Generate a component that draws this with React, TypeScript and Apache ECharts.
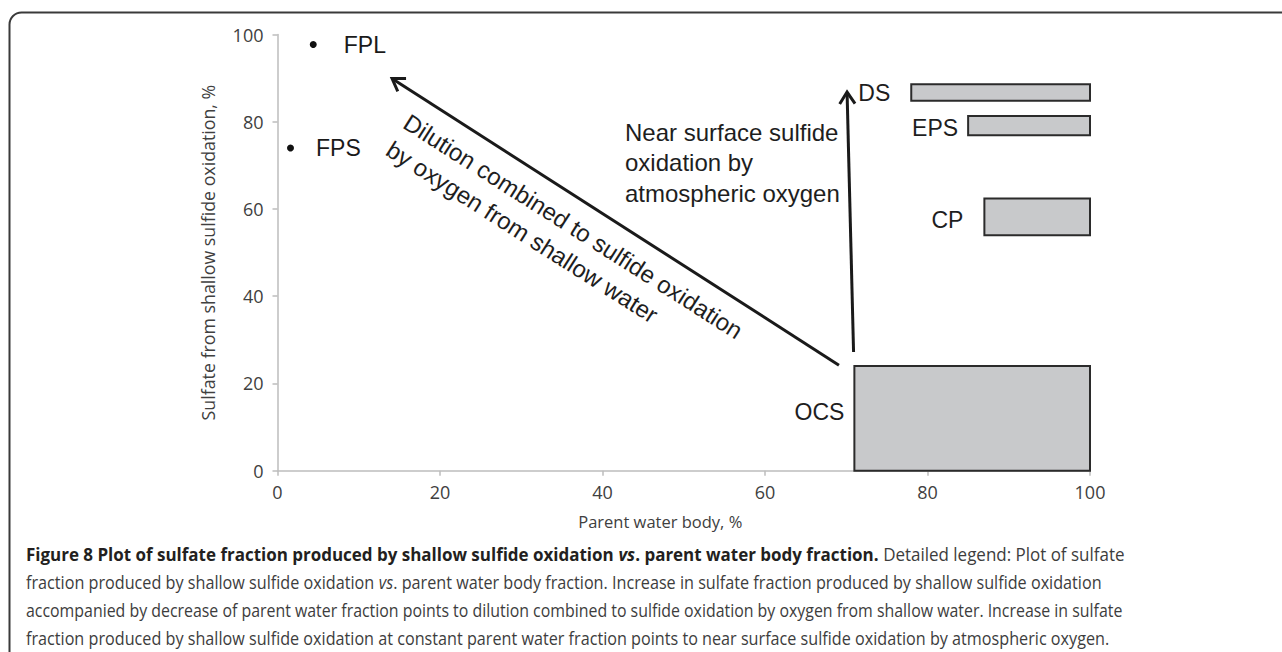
import React, { useEffect, useRef } from "react";
import * as echarts from "echarts";

// Axis ranges (percent)
const xRange = { min: 0, max: 100, step: 20 };
const yRange = { min: 0, max: 100, step: 20 };
const xAxisName = "Parent water body, %";
const yAxisName = "Sulfate from shallow sulfide oxidation, %";

// Single water samples
const pointNames = ["FPL", "FPS"];
const pointX = [4.4, 1.6];
const pointY = [97.7, 74.0];

// Ranges of water groups: parent-water fraction (x) vs sulfate fraction (y)
const boxNames = ["DS", "EPS", "CP", "OCS"];
const boxXFrom = [78, 85, 87, 71];
const boxXTo = [100, 100, 100, 100];
const boxYFrom = [84.8, 76.9, 54.0, 0];
const boxYTo = [88.6, 81.3, 62.4, 24.0];

// Process arrows: start and end in data units
const arrowXFrom = [69.1, 70.9];
const arrowYFrom = [24.2, 27.2];
const arrowXTo = [14.1, 70.1];
const arrowYTo = [89.9, 86.8];

const dilutionLines = ["Dilution combined to sulfide oxidation", "by oxygen from shallow water"];
const surfaceLines = ["Near surface sulfide", "oxidation by", "atmospheric oxygen"];

// Caption, one entry per printed line; each line is a list of [style, text] runs
const captionLines: [string, string][][] = [
  [
    ["b", "Figure 8 Plot of sulfate fraction produced by shallow sulfide oxidation "],
    ["bi", "vs"],
    ["b", ". parent water body fraction."],
    ["r", " Detailed legend: Plot of sulfate"],
  ],
  [
    ["r", "fraction produced by shallow sulfide oxidation "],
    ["i", "vs"],
    ["r", ". parent water body fraction. Increase in sulfate fraction produced by shallow sulfide oxidation"],
  ],
  [
    ["r", "accompanied by decrease of parent water fraction points to dilution combined to sulfide oxidation by oxygen from shallow water. Increase in sulfate"],
  ],
  [
    ["r", "fraction produced by shallow sulfide oxidation at constant parent water fraction points to near surface sulfide oxidation by atmospheric oxygen."],
  ],
];

// Layout / style
const CAPTION_LEFT = 26;
const captionRight = [1125, 1102, 1123, 1110];
const CAPTION_TOP = 554;
const CAPTION_STEP = 28;
const CAPTION_SIZE = 18;
const CAPTION_FONT = '"Open Sans", "Noto Sans", sans-serif';
const LABEL_FONT = '"Liberation Sans", Arial, Helvetica, sans-serif';
const AXIS_FONT = '"Open Sans", "Noto Sans", sans-serif';

const boxLabelOffset: Record<string, [number, number]> = {
  DS: [21, 0],
  EPS: [10, 2],
  CP: [21, 3],
  OCS: [10, -6],
};
const pointLabelDistance: Record<string, number> = { FPL: 27, FPS: 22 };

const runStyle: Record<string, { fontWeight: string; fontStyle: string; fill: string }> = {
  b: { fontWeight: "bold", fontStyle: "normal", fill: "#231f20" },
  bi: { fontWeight: "bold", fontStyle: "italic", fill: "#231f20" },
  r: { fontWeight: "normal", fontStyle: "normal", fill: "#3d3d3d" },
  i: { fontWeight: "normal", fontStyle: "italic", fill: "#3d3d3d" },
};

function measureRuns(runs: [string, string][]): number {
  const ctx = document.createElement("canvas").getContext("2d");
  if (!ctx) return 0;
  let w = 0;
  for (const [k, t] of runs) {
    const s = runStyle[k];
    ctx.font = `${s.fontStyle} ${s.fontWeight} ${CAPTION_SIZE}px ${CAPTION_FONT}`;
    w += ctx.measureText(t).width;
  }
  return w;
}

function captionGraphics() {
  const rich: Record<string, any> = {};
  Object.keys(runStyle).forEach((k) => {
    rich[k] = {
      fontFamily: CAPTION_FONT,
      fontSize: CAPTION_SIZE,
      fontWeight: runStyle[k].fontWeight,
      fontStyle: runStyle[k].fontStyle,
      fill: runStyle[k].fill,
    };
  });
  return captionLines.map((runs, i) => {
    const natural = measureRuns(runs);
    const target = captionRight[i] - CAPTION_LEFT;
    const sx = natural > 0 ? target / natural : 1;
    return {
      type: "text",
      x: CAPTION_LEFT,
      y: CAPTION_TOP + i * CAPTION_STEP,
      scaleX: sx,
      silent: true,
      style: {
        text: runs.map(([k, t]) => `{${k}|${t}}`).join(""),
        rich,
        fontFamily: CAPTION_FONT,
        fontSize: CAPTION_SIZE,
        fill: "#3d3d3d",
        align: "left",
        verticalAlign: "middle",
        textAlign: "left",
        textVerticalAlign: "middle",
      },
    };
  });
}

export default function App() {
  const ref = useRef<HTMLDivElement>(null);

  useEffect(() => {
    if (!ref.current) return;
    const chart = echarts.init(ref.current, undefined, { renderer: "svg" });

    const boxData = boxNames.map((n, i) => [boxXFrom[i], boxXTo[i], boxYFrom[i], boxYTo[i]]);
    const arrowData = arrowXFrom.map((x, i) => [x, arrowYFrom[i], arrowXTo[i], arrowYTo[i]]);
    const pointData = pointNames.map((n, i) => ({
      name: n,
      value: [pointX[i], pointY[i]],
      label: { distance: pointLabelDistance[n] },
    }));

    const axisCommon = {
      axisLine: { show: true, lineStyle: { color: "#bdbdbd", width: 1.5 } },
      axisTick: { show: true, length: 5, lineStyle: { color: "#bdbdbd", width: 1.5 } },
      splitLine: { show: false },
      nameLocation: "middle" as const,
    };

    const dilutionAngle = 0.567;

    const option: any = {
      animation: false,
      backgroundColor: "#ffffff",
      grid: { left: 277.5, right: 192, top: 34.5, bottom: 181.3, containLabel: false },
      xAxis: {
        type: "value",
        min: xRange.min,
        max: xRange.max,
        interval: xRange.step,
        ...axisCommon,
        name: xAxisName,
        nameGap: 42,
        nameTextStyle: { fontFamily: AXIS_FONT, fontSize: 16.5, color: "#404040", padding: [0, 47, 0, 0] },
        axisLabel: { fontFamily: AXIS_FONT, fontSize: 18, color: "#404040", margin: 12 },
      },
      yAxis: {
        type: "value",
        min: yRange.min,
        max: yRange.max,
        interval: yRange.step,
        ...axisCommon,
        name: yAxisName,
        nameGap: 61,
        nameTextStyle: { fontFamily: AXIS_FONT, fontSize: 17.8, color: "#404040" },
        axisLabel: { fontFamily: AXIS_FONT, fontSize: 18, color: "#404040", margin: 14 },
      },
      series: [
        {
          type: "custom",
          name: "groups",
          clip: false,
          data: boxData,
          encode: { x: [0, 1], y: [2, 3] },
          renderItem: (params: any, api: any) => {
            const tl = api.coord([api.value(0), api.value(3)]);
            const br = api.coord([api.value(1), api.value(2)]);
            const name = boxNames[params.dataIndex];
            const [gap, dy] = boxLabelOffset[name];
            return {
              type: "group",
              children: [
                {
                  type: "rect",
                  shape: { x: tl[0], y: tl[1], width: br[0] - tl[0], height: br[1] - tl[1] },
                  style: { fill: "#c8c9cb", stroke: "#2b2b2b", lineWidth: 2 },
                },
                {
                  type: "text",
                  x: tl[0] - gap,
                  y: (tl[1] + br[1]) / 2 + dy,
                  style: {
                    text: name,
                    fill: "#1e1e1e",
                    fontFamily: LABEL_FONT,
                    fontSize: 23,
                    align: "right",
                    verticalAlign: "middle",
                    textAlign: "right",
                    textVerticalAlign: "middle",
                  },
                },
              ],
            };
          },
          z: 2,
        },
        {
          type: "custom",
          name: "processes",
          clip: false,
          data: arrowData,
          encode: { x: [0, 2], y: [1, 3] },
          renderItem: (params: any, api: any) => {
            const a = api.coord([api.value(0), api.value(1)]);
            const b = api.coord([api.value(2), api.value(3)]);
            const ang = Math.atan2(b[1] - a[1], b[0] - a[0]);
            const len = 14;
            const half = 0.58;
            const l = [b[0] - len * Math.cos(ang - half), b[1] - len * Math.sin(ang - half)];
            const r = [b[0] - len * Math.cos(ang + half), b[1] - len * Math.sin(ang + half)];
            const stroke = "#1a1a1a";
            return {
              type: "group",
              children: [
                {
                  type: "line",
                  shape: { x1: a[0], y1: a[1], x2: b[0] - 1.2 * Math.cos(ang), y2: b[1] - 1.2 * Math.sin(ang) },
                  style: { stroke, lineWidth: 3 },
                },
                {
                  type: "polyline",
                  shape: { points: [l, b, r] },
                  style: { stroke, lineWidth: 3, fill: null, lineJoin: "miter" },
                },
              ],
            };
          },
          z: 3,
        },
        {
          type: "scatter",
          name: "samples",
          data: pointData,
          symbol: "circle",
          symbolSize: 7,
          itemStyle: { color: "#111111", opacity: 1 },
          label: {
            show: true,
            position: "right",
            formatter: "{b}",
            fontFamily: LABEL_FONT,
            fontSize: 23,
            color: "#1a1a1a",
            opacity: 1,
          },
          z: 4,
        },
      ],
      graphic: [
        {
          type: "rect",
          silent: true,
          shape: { x: 9.5, y: 12.5, width: 1300, height: 700, r: 12 },
          style: { fill: "none", stroke: "#3a3a3a", lineWidth: 2 },
        },
        {
          type: "text",
          x: 414.7,
          y: 106.6,
          rotation: -dilutionAngle,
          silent: true,
          style: {
            text: dilutionLines.join("\n"),
            fill: "#1e1e1e",
            fontFamily: LABEL_FONT,
            fontSize: 24,
            lineHeight: 32,
            align: "left",
            verticalAlign: "top",
            textAlign: "left",
            textVerticalAlign: "top",
          },
        },
        {
          type: "text",
          x: 625,
          y: 117.2,
          silent: true,
          style: {
            text: surfaceLines.join("\n"),
            fill: "#1e1e1e",
            fontFamily: LABEL_FONT,
            fontSize: 24,
            lineHeight: 30.5,
            align: "left",
            verticalAlign: "top",
            textAlign: "left",
            textVerticalAlign: "top",
          },
        },
        ...captionGraphics(),
      ],
    };

    chart.setOption(option);
    return () => chart.dispose();
  }, []);

  return (
    <div
      ref={ref}
      style={{ position: "fixed", left: 0, top: 0, width: 1282, height: 652, background: "#fff" }}
    />
  );
}
